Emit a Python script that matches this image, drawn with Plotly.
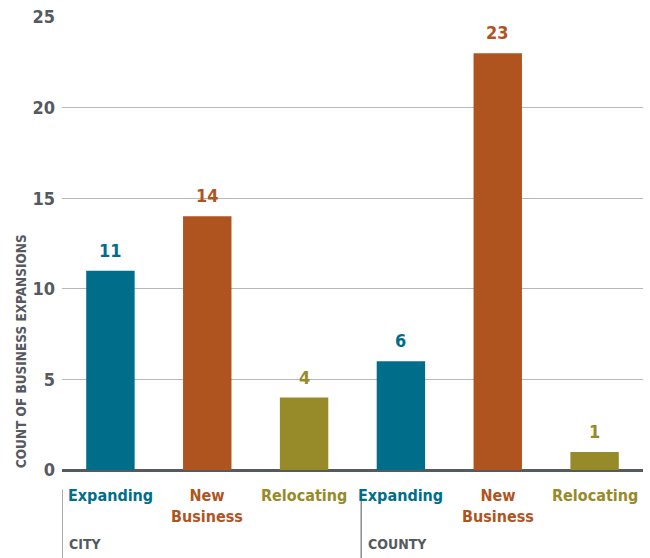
import plotly.graph_objects as go

groups = ["CITY", "CITY", "CITY", "COUNTY", "COUNTY", "COUNTY"]
categories = ["Expanding", "New<br>Business", "Relocating",
              "Expanding", "New<br>Business", "Relocating"]
counts = [11, 14, 4, 6, 23, 1]
colors = ["#006e8a", "#b0541f", "#978a29", "#006e8a", "#b0541f", "#978a29"]
y_ticks = [0, 5, 10, 15, 20, 25]
y_title = "COUNT OF BUSINESS EXPANSIONS"

FONT = "DejaVu Sans Condensed, Roboto, sans-serif"
GRAY = "#555a61"

positions = list(range(len(counts)))

fig = go.Figure(
    go.Bar(
        x=positions,
        y=counts,
        marker=dict(color=colors, line=dict(width=0)),
        hoverinfo="skip",
    )
)

annotations = []
# value labels above each bar
for pos, v, col in zip(positions, counts, colors):
    annotations.append(dict(
        x=pos, y=v, xref="x", yref="y", yshift=8,
        text=f"<b>{v}</b>", showarrow=False, yanchor="bottom",
        font=dict(family=FONT, size=18, color=col),
    ))

# category labels under the axis
for pos, cat, col in zip(positions, categories, colors):
    annotations.append(dict(
        x=pos, y=0, xref="x", yref="y", yshift=-14,
        text=f"<b>{cat}</b>", showarrow=False, yanchor="top",
        font=dict(family=FONT, size=16, color=col), align="center",
    ))

# group labels with divider lines
shapes = []
seen = []
for pos, grp in zip(positions, groups):
    if grp in seen:
        continue
    edge = pos - 0.5 + (0.09 if seen else 0)
    seen.append(grp)
    annotations.append(dict(
        x=edge, y=0, xref="x", yref="y", yshift=-64, xshift=5,
        text=f"<b>{grp}</b>", showarrow=False, xanchor="left", yanchor="top",
        font=dict(family=FONT, size=14, color=GRAY),
    ))
    shapes.append(dict(
        type="line", xref="x", yref="paper", x0=edge, x1=edge,
        y0=-0.043, y1=-0.2, line=dict(color="#8a8d91", width=1.5),
    ))

# rotated axis title, sitting toward the lower part of the axis
annotations.append(dict(
    x=-0.07, y=0.263, xref="paper", yref="paper",
    text=f"<b>{y_title}</b>", showarrow=False, textangle=-90,
    xanchor="center", yanchor="middle",
    font=dict(family=FONT, size=13.5, color=GRAY),
))

fig.update_layout(
    width=650, height=558,
    margin=dict(l=62, r=7, t=17, b=88),
    paper_bgcolor="white", plot_bgcolor="white",
    showlegend=False, bargap=0.5,
    xaxis=dict(range=[-0.5, 5.5], showticklabels=False, showgrid=False,
               zeroline=False, showline=False, fixedrange=True),
    yaxis=dict(
        range=[0, 25], tickvals=y_ticks, ticktext=[f"<b>{t}</b>" for t in y_ticks],
        showgrid=True, gridcolor="#b8b8b8", gridwidth=1,
        zeroline=True, zerolinecolor="#555a61", zerolinewidth=3,
        tickfont=dict(family=FONT, size=18, color=GRAY),
        ticks="", ticklabelstandoff=6,
    ),
    annotations=annotations,
    shapes=shapes,
)

fig.write_html("out.html")
